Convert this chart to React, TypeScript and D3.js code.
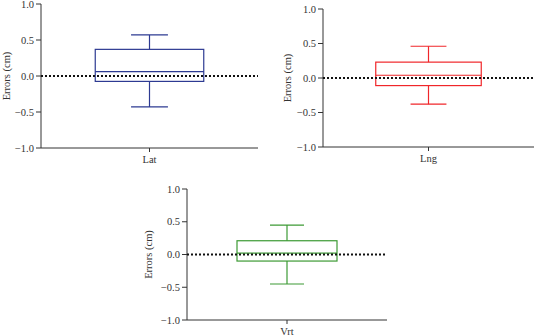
import * as d3 from 'd3';

// box plot stats: [whiskerLow, q1, median, q3, whiskerHigh]
const categories = ['Lat', 'Lng', 'Vrt'];
const latStats = [-0.43, -0.075, 0.06, 0.37, 0.57];
const lngStats = [-0.38, -0.11, 0.04, 0.23, 0.46];
const vrtStats = [-0.45, -0.1, 0.02, 0.21, 0.45];
const yTicks = [-1.0, -0.5, 0.0, 0.5, 1.0];
const colors = ['#2d3a92', '#f0262a', '#3c9a34'];
const yLabel = 'Errors (cm)';

const W = 534;
const H = 336;
const FONT = '"Liberation Serif", "Times New Roman", serif';

interface PanelProps {
    name: string;
    stats: number[];
    color: string;
    x0: number;
    x1: number;
    yTop: number;
    yBottom: number;
    labelX: number;
}

function Panel({ name, stats, color, x0, x1, yTop, yBottom, labelX }: PanelProps) {
    const y = d3.scaleLinear().domain([-1, 1]).range([yBottom, yTop]);
    const x = d3.scalePoint<string>().domain([name]).range([x0, x1]).padding(0.5);
    const cx = x(name) as number;
    const span = x1 - x0;
    const boxW = span * 0.5;
    const capW = span * 0.17;
    const [lo, q1, med, q3, hi] = stats;

    return (
        <g>
            {/* y axis */}
            <line x1={x0} x2={x0} y1={yTop} y2={yBottom} stroke="#333" strokeWidth={1} />
            {yTicks.map((t) => (
                <g key={t}>
                    <line x1={x0 - 5} x2={x0} y1={y(t)} y2={y(t)} stroke="#333" strokeWidth={1} />
                    <text
                        x={x0 - 7}
                        y={y(t)}
                        dy="0.35em"
                        textAnchor="end"
                        fontSize={10.5}
                        fill="#333"
                        fontFamily={FONT}
                    >
                        {t < 0 ? '\u2212' + Math.abs(t).toFixed(1) : t.toFixed(1)}
                    </text>
                </g>
            ))}
            <text
                transform={`translate(${labelX},${y(0)}) rotate(-90)`}
                textAnchor="middle"
                dy="0.35em"
                fontSize={10.5}
                fill="#333"
                fontFamily={FONT}
            >
                {yLabel}
            </text>

            {/* x axis */}
            <line x1={x0} x2={x1} y1={yBottom} y2={yBottom} stroke="#333" strokeWidth={1} />
            <line x1={cx} x2={cx} y1={yBottom} y2={yBottom + 4} stroke="#333" strokeWidth={1} />
            <text x={cx} y={yBottom + 15} textAnchor="middle" fontSize={10.5} fill="#333" fontFamily={FONT}>
                {name}
            </text>

            {/* whiskers */}
            <line x1={cx} x2={cx} y1={y(hi)} y2={y(q3)} stroke={color} strokeWidth={1.2} />
            <line x1={cx} x2={cx} y1={y(q1)} y2={y(lo)} stroke={color} strokeWidth={1.2} />
            <line x1={cx - capW / 2} x2={cx + capW / 2} y1={y(hi)} y2={y(hi)} stroke={color} strokeWidth={1.2} />
            <line x1={cx - capW / 2} x2={cx + capW / 2} y1={y(lo)} y2={y(lo)} stroke={color} strokeWidth={1.2} />

            {/* box */}
            <rect
                x={cx - boxW / 2}
                y={y(q3)}
                width={boxW}
                height={y(q1) - y(q3)}
                fill="none"
                stroke={color}
                strokeWidth={1.2}
            />
            <line x1={cx - boxW / 2} x2={cx + boxW / 2} y1={y(med)} y2={y(med)} stroke={color} strokeWidth={1.2} />

            {/* zero reference line */}
            <line
                x1={x0}
                x2={x1}
                y1={y(0)}
                y2={y(0)}
                stroke="#111"
                strokeWidth={2.2}
                strokeDasharray="2,2"
            />
        </g>
    );
}

export default function App() {
    const allStats = [latStats, lngStats, vrtStats];
    const layout = [
        { x0: 41, x1: 258, yTop: 4, yBottom: 148, labelX: 6.5 },
        { x0: 323, x1: 534, yTop: 9, yBottom: 147, labelX: 287.5 },
        { x0: 187, x1: 387, yTop: 189, yBottom: 320, labelX: 148.5 },
    ];
    return (
        <svg
            width={W}
            height={H}
            style={{ position: 'absolute', left: 0, top: 0, background: '#fff' }}
        >
            {categories.map((c, i) => (
                <Panel key={c} name={c} stats={allStats[i]} color={colors[i]} {...layout[i]} />
            ))}
        </svg>
    );
}
